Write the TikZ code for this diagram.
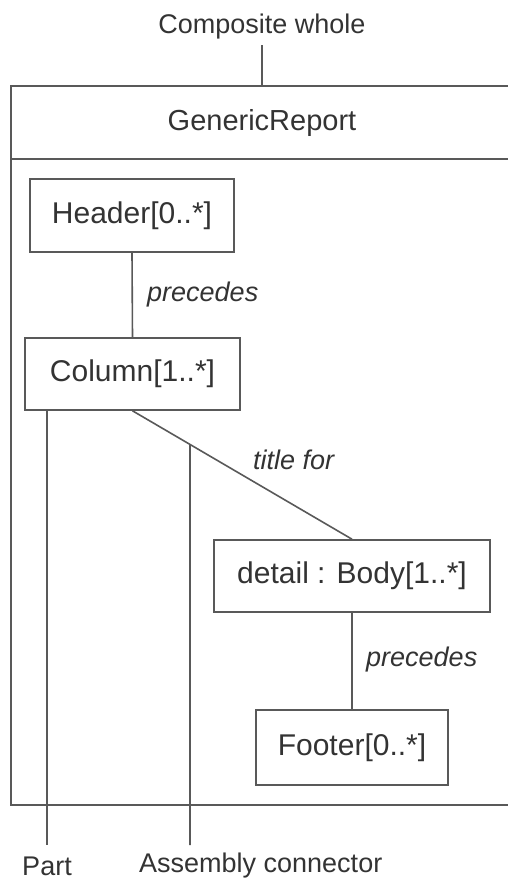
\documentclass[tikz,border=0pt]{standalone}
\usepackage{fontspec}
\setmainfont{Liberation Sans}
\begin{document}
\begin{tikzpicture}[x=1pt,y=-1pt,
  ln/.style={draw=black!65,line width=1.6pt},
  txt/.style={text=black!80,font=\fontsize{27}{32}\selectfont,inner sep=0pt},
  part/.style={ln,fill=white,txt,font=\fontsize{30}{36}\selectfont,inner sep=0pt,minimum height=72pt},
  lbl/.style={txt,font=\fontsize{27}{32}\selectfont\itshape,anchor=west}]
\useasboundingbox (0,0) rectangle (507,881);
% frame
\draw[ln] (512,86) -- (11,86) -- (11,805) -- (512,805);
\draw[ln] (11,159) -- (512,159);
\node[txt,font=\fontsize{29}{34}\selectfont] (title) at (262,123) {GenericReport};
\node[txt] (cw) at (262,27) {Composite whole};
\coordinate (ftop) at (262,86);
\coordinate (cwb) at (262,45);
\draw[ln] (cwb) -- (ftop);
% parts
\node[part,minimum width=204pt,minimum height=73pt] (header) at (132,215.5) {Header[0..*]};
\node[part,minimum width=215pt] (column) at (132.5,374) {Column[1..*]};
\node[part,minimum width=276pt] (body) at (352,576) {detail : Body[1..*]};
\node[part,minimum width=192pt,minimum height=75pt] (footer) at (352,747.5) {Footer[0..*]};
% connectors
\draw[ln] (header.south) -- (column.north);
\draw[ln] (column.south) -- (body.north);
\draw[ln] (body.south) -- (footer.north);
\node[lbl] (p1) at (147,295) {precedes};
\node[lbl] (tf) at (253,460) {title for};
\node[lbl] (p2) at (366,660) {precedes};
% callouts
\path (column.south) -- (body.north) coordinate[pos=0.262] (ac);
\coordinate (partend) at (47,845);
\coordinate (acend) at (190,845);
\draw[ln] (partend |- column.south) -- (partend);
\draw[ln] (ac) -- (acend);
\node[txt] (partlbl) at (47,866) {Part};
\node[txt,anchor=west] (aclbl) at (139,866) {Assembly connector};
\end{tikzpicture}
\end{document}
